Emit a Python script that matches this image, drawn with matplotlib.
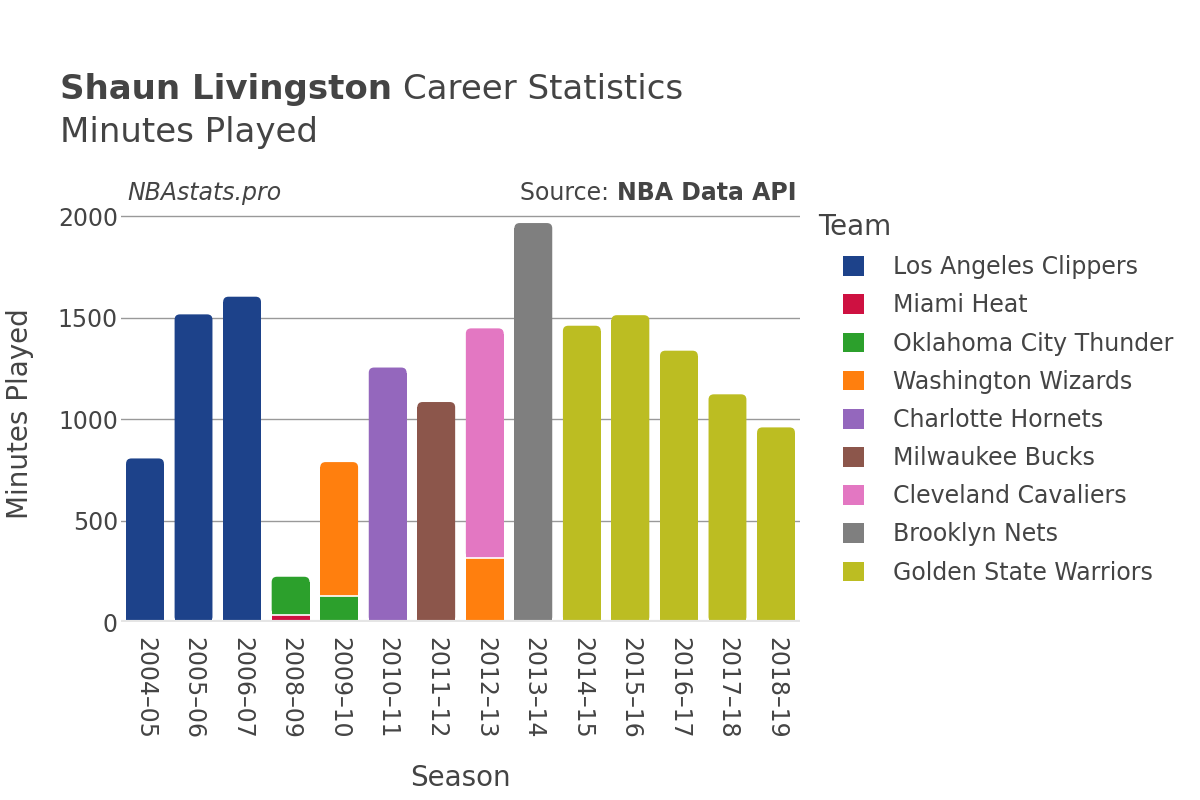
import numpy as np
import matplotlib
matplotlib.use("Agg")
import matplotlib.pyplot as plt
from matplotlib.patches import FancyBboxPatch, Patch

seasons = ["2004–05", "2005–06", "2006–07", "2008–09", "2009–10", "2010–11", "2011–12",
           "2012–13", "2013–14", "2014–15", "2015–16", "2016–17", "2017–18", "2018–19"]

teams = ["Los Angeles Clippers", "Miami Heat", "Oklahoma City Thunder", "Washington Wizards",
         "Charlotte Hornets", "Milwaukee Bucks", "Cleveland Cavaliers", "Brooklyn Nets",
         "Golden State Warriors"]

colors = ["#1d428a", "#ce1141", "#2ca02c", "#ff7f0e", "#9467bd", "#8c564b",
          "#e377c2", "#7f7f7f", "#bcbd22"]

clippers = [806, 1516, 1603, 0, 0, 0, 0, 0, 0, 0, 0, 0, 0, 0]
heat = [0, 0, 0, 36, 0, 0, 0, 0, 0, 0, 0, 0, 0, 0]
thunder = [0, 0, 0, 187, 126, 0, 0, 0, 0, 0, 0, 0, 0, 0]
wizards = [0, 0, 0, 0, 662, 0, 0, 315, 0, 0, 0, 0, 0, 0]
hornets = [0, 0, 0, 0, 0, 1254, 0, 0, 0, 0, 0, 0, 0, 0]
bucks = [0, 0, 0, 0, 0, 0, 1084, 0, 0, 0, 0, 0, 0, 0]
cavaliers = [0, 0, 0, 0, 0, 0, 0, 1132, 0, 0, 0, 0, 0, 0]
nets = [0, 0, 0, 0, 0, 0, 0, 0, 1966, 0, 0, 0, 0, 0]
warriors = [0, 0, 0, 0, 0, 0, 0, 0, 0, 1460, 1512, 1337, 1122, 959]

series = [clippers, heat, thunder, wizards, hornets, bucks, cavaliers, nets, warriors]

text_color = "#444444"
plt.rcParams["font.family"] = ["DejaVu Sans"]

fig = plt.figure(figsize=(12, 8), dpi=100)
ax = fig.add_axes([0.1006, 0.2225, 0.5663, 0.52])
ax.set_xlim(-0.5, len(seasons) - 0.5)
ax.set_ylim(0, 2050)

x = np.arange(len(seasons))
bottom = np.zeros(len(seasons))
totals = np.sum(np.array(series), axis=0)
width = 0.78
rx = 0.11          # corner radius in x data units
ry = 26.0          # corner radius in y data units
for name, vals, c in zip(teams, series, colors):
    vals = np.array(vals, dtype=float)
    for i in range(len(seasons)):
        if vals[i] <= 0:
            continue
        top = bottom[i] + vals[i]
        if np.isclose(top, totals[i]) and vals[i] > 2 * ry:
            patch = FancyBboxPatch((x[i] - width / 2, bottom[i]), width, vals[i],
                                   boxstyle=f"round,pad=0,rounding_size={rx}",
                                   mutation_aspect=ry / rx,
                                   facecolor=c, edgecolor="none", zorder=3)
            ax.add_patch(patch)
            ax.bar(x[i], vals[i] - ry, width, bottom=bottom[i], color=c,
                   linewidth=0, zorder=3)
        else:
            ax.bar(x[i], vals[i], width, bottom=bottom[i], color=c,
                   linewidth=0, zorder=3)
    bottom += vals

# white separators between stacked segments
cum = np.cumsum(np.array(series), axis=0)
for k in range(len(series) - 1):
    for i in range(len(seasons)):
        if 0 < cum[k, i] < totals[i] and series[k][i] > 0:
            ax.hlines(cum[k, i], x[i] - width / 2, x[i] + width / 2,
                      color="white", linewidth=1.2, zorder=4)

ax.set_yticks([0, 500, 1000, 1500, 2000])
ax.yaxis.grid(True, color="#999999", linewidth=1)
ax.set_axisbelow(True)
ax.axhline(0, color="#e5e5e5", linewidth=3, zorder=4)
for s in ax.spines.values():
    s.set_visible(False)
ax.tick_params(length=0, labelsize=17, colors=text_color)
ax.tick_params(axis="x", pad=11)
ax.tick_params(axis="y", pad=2)
ax.set_xticks(x)
ax.set_xticklabels(seasons, rotation=-90)
ax.set_xlabel("Season", fontsize=20, color=text_color, labelpad=18)
ax.set_ylabel("Minutes Played", fontsize=20, color=text_color, labelpad=17)

t1 = fig.text(0.05, 0.888, "Shaun Livingston", fontsize=24.5, fontweight="bold",
              color=text_color, va="center")
fig.canvas.draw()
bb = t1.get_window_extent()
fig.text(bb.x1 / fig.bbox.width + 0.009, 0.888, "Career Statistics", fontsize=24.5,
         color=text_color, va="center")
fig.text(0.05, 0.834, "Minutes Played", fontsize=24.5, color=text_color, va="center")
fig.text(0.106, 0.759, "NBAstats.pro", fontsize=17, style="italic",
         color=text_color, va="center")
src = fig.text(0.6635, 0.759, "NBA Data API", fontsize=17, fontweight="bold",
               color=text_color, va="center", ha="right")
fig.canvas.draw()
sb = src.get_window_extent()
fig.text(sb.x0 / fig.bbox.width, 0.759, "Source: ", fontsize=17, color=text_color,
         va="center", ha="right")

fig.text(0.6817, 0.716, "Team", fontsize=20, color=text_color, va="center")
handles = [Patch(facecolor=c, edgecolor="none") for c in colors]
leg = fig.legend(handles, teams, loc="upper left", bbox_to_anchor=(0.7025, 0.681),
                 frameon=False, fontsize=17, handlelength=0.9, handleheight=0.9,
                 labelspacing=0.6, handletextpad=1.2, borderaxespad=0, borderpad=0)
for t in leg.get_texts():
    t.set_color(text_color)

fig.savefig("out.png", dpi=100)
